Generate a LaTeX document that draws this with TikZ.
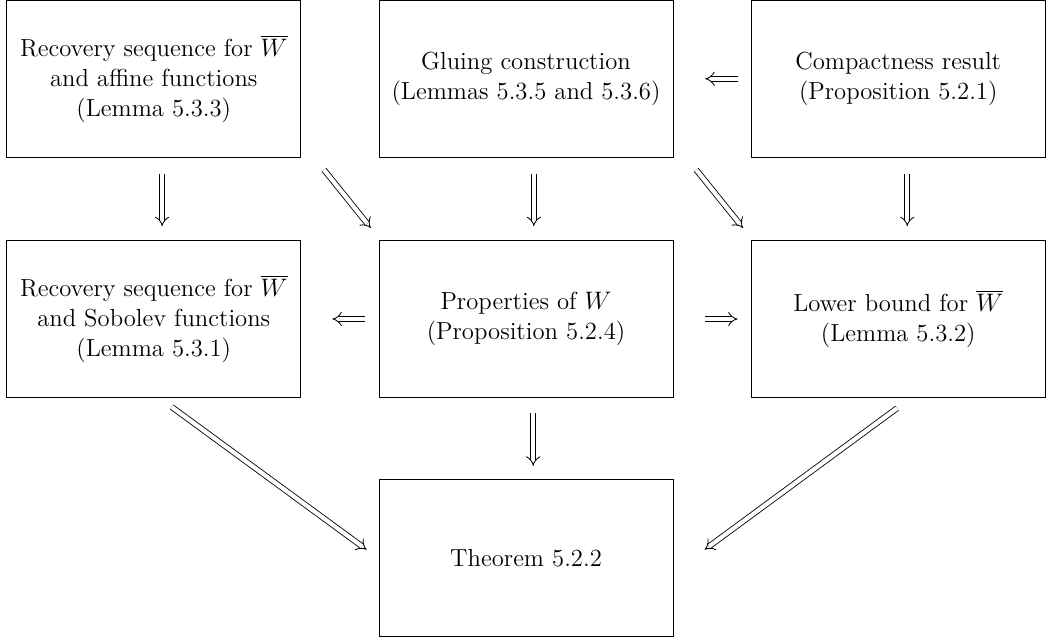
\documentclass[tikz,border=0pt]{standalone}
\usetikzlibrary{positioning,arrows.meta}
\begin{document}
\begin{tikzpicture}[every node/.style = {shape=rectangle, draw, align=center, minimum width=4.9cm, minimum height=2.62cm, inner sep=2pt, font=\fontsize{11.7}{14.3}\selectfont},
          imp/.style = {double, double distance=2pt, -{Implies}},
          node distance=1.37cm and 1.29cm]
  \useasboundingbox (-8.767,-5.367) rectangle (8.8,5.317);
  \node (props) at (0,0) {Properties of $W$\\ (Proposition 5.2.4)};
  \node[above=of props] (glue) {Gluing construction\\ (Lemmas 5.3.5 and 5.3.6)};
  \node[left=of props] (recsob) {Recovery sequence for $\overline{W}$\\ and Sobolev functions\\ (Lemma 5.3.1)};
  \node[right=of props] (lower) {Lower bound for $\overline{W}$\\ (Lemma 5.3.2)};
  \node[left=of glue] (recaff) {Recovery sequence for $\overline{W}$\\ and affine functions\\ (Lemma 5.3.3)};
  \node[right=of glue] (compact) {Compactness result\\ (Proposition 5.2.1)};
  \node[below=1.35cm of props] (thm) {Theorem 5.2.2};

  % top row
  \draw[imp] ([xshift=-0.22cm]compact.west) -- ([xshift=0.53cm]glue.east);
  \draw[imp] ([shift={(0.14cm,-0.27cm)}]recaff.south) -- ([shift={(0.14cm,0.23cm)}]recsob.north);
  \draw[imp] ([shift={(0.38cm,-0.2cm)}]recaff.south east) -- ([shift={(-0.13cm,0.2cm)}]props.north west);
  \draw[imp] ([shift={(0.13cm,-0.27cm)}]glue.south) -- ([shift={(0.13cm,0.23cm)}]props.north);
  \draw[imp] ([shift={(0.38cm,-0.2cm)}]glue.south east) -- ([shift={(-0.13cm,0.2cm)}]lower.north west);
  \draw[imp] ([shift={(0.15cm,-0.27cm)}]compact.south) -- ([shift={(0.15cm,0.23cm)}]lower.north);
  % middle row
  \draw[imp] ([xshift=-0.22cm]props.west) -- ([xshift=0.52cm]recsob.east);
  \draw[imp] ([xshift=0.53cm]props.east) -- ([xshift=-0.22cm]lower.west);
  % to the theorem
  \draw[imp] ([shift={(0.3cm,-0.15cm)}]recsob.south) -- ([shift={(-0.2cm,0.14cm)}]thm.west);
  \draw[imp] ([shift={(0.12cm,-0.25cm)}]props.south) -- ([shift={(0.12cm,0.22cm)}]thm.north);
  \draw[imp] ([shift={(-0.02cm,-0.17cm)}]lower.south) -- ([shift={(0.52cm,0.14cm)}]thm.east);
\end{tikzpicture}
\end{document}
